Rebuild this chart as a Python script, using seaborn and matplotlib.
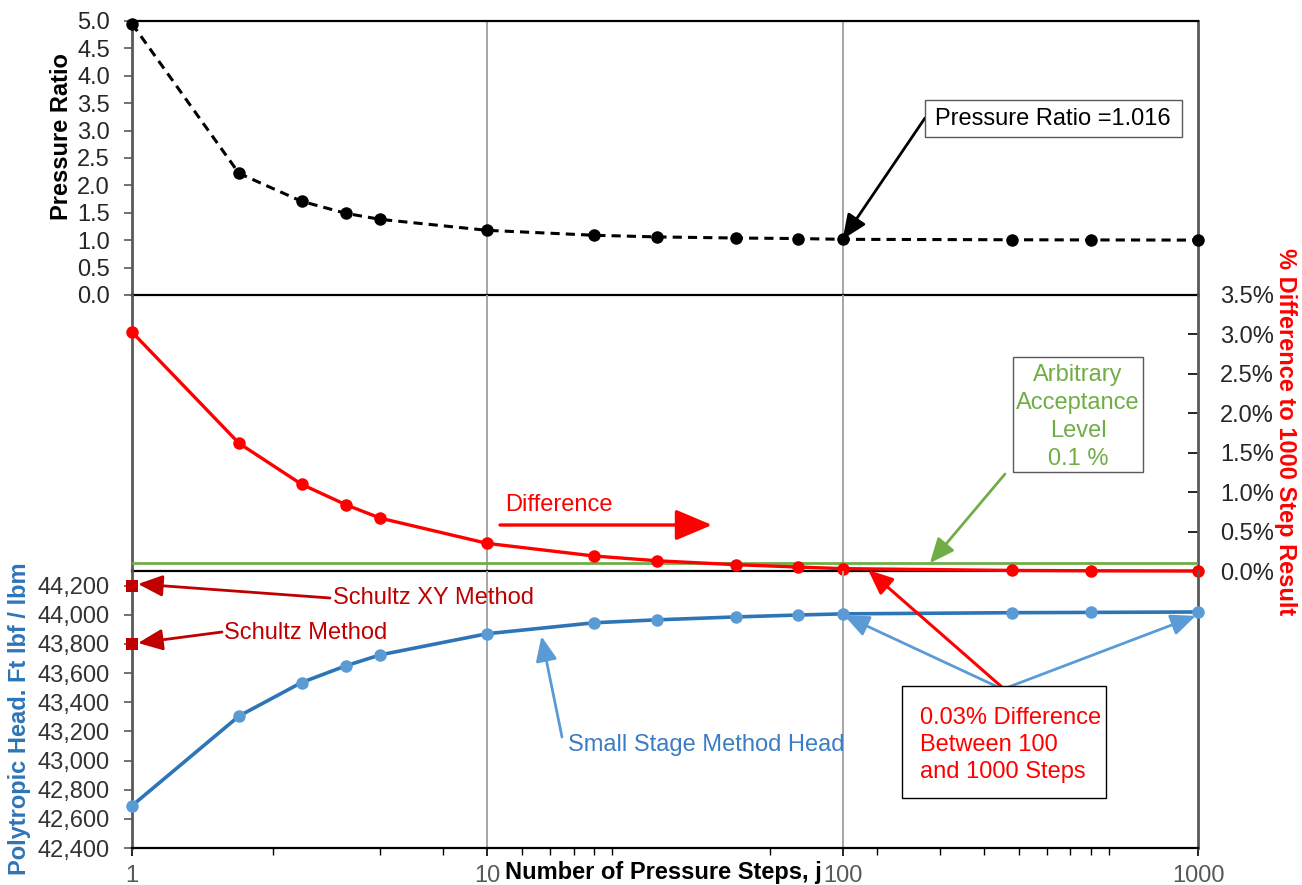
import numpy as np
import pandas as pd
import matplotlib
matplotlib.use('Agg')
import matplotlib.pyplot as plt
import seaborn as sns
from matplotlib.ticker import FixedLocator, FuncFormatter, NullFormatter, NullLocator
from matplotlib.patches import Rectangle

# ---------------- data ----------------
steps = [1, 2, 3, 4, 5, 10, 20, 30, 50, 75, 100, 300, 500, 1000]
pressure_ratio = [4.95, 2.22, 1.71, 1.49, 1.38, 1.18, 1.09, 1.06, 1.04, 1.03, 1.016, 1.008, 1.005, 1.002]
pct_difference = [3.03, 1.62, 1.10, 0.84, 0.67, 0.35, 0.19, 0.13, 0.08, 0.05, 0.03, 0.007, 0.003, 0.0]
head = [42690, 43305, 43535, 43650, 43725, 43870, 43945, 43965, 43985, 43998, 44006, 44014, 44016, 44019]
schultz_steps = [1, 1]
schultz_head = [44200, 43800]
acceptance_level = 0.1
x_ticks = [1, 10, 100, 1000]
x_tick_labels = ['1', '10', '100', '1000']
pr_ticks = [0.0, 0.5, 1.0, 1.5, 2.0, 2.5, 3.0, 3.5, 4.0, 4.5, 5.0]
pct_ticks = [0.0, 0.5, 1.0, 1.5, 2.0, 2.5, 3.0, 3.5]
head_ticks = [42400, 42600, 42800, 43000, 43200, 43400, 43600, 43800, 44000, 44200]
minor_x = [2.5, 5, 7.5, 12.5, 15, 17.5, 20, 22.5, 62.5, 125, 187.5, 250, 312.5,
           375, 437.5, 500, 562.5]

df = pd.DataFrame({'steps': steps, 'pr': pressure_ratio,
                   'diff': pct_difference, 'head': head})
df_s = pd.DataFrame({'steps': schultz_steps, 'head': schultz_head})

# ---------------- style ----------------
sns.set_theme(style='white')
plt.rcParams['font.family'] = ['Liberation Sans', 'DejaVu Sans']
FS = 17
W, H = 1302, 885
fig = plt.figure(figsize=(W / 100, H / 100), dpi=100)
fig.patch.set_facecolor('white')

def fx(x):
    return x / W

def fy(y):
    return 1 - y / H

L, R = 132, 1198
ax_top = fig.add_axes([fx(L), fy(295), fx(R - L), (295 - 21) / H])
ax_mid = fig.add_axes([fx(L), fy(571), fx(R - L), (571 - 295) / H])
ax_bot = fig.add_axes([fx(L), fy(848), fx(R - L), (848 - 571) / H])

SPINE_GRAY = '#595959'
GRID = '#A6A6A6'
RED = '#FF0000'
DRED = '#C00000'
GREEN = '#70AD47'
BLUE_L = '#2E75B6'
BLUE_M = '#5B9BD5'
TXT_BLUE = '#3B7DC4'

for ax in (ax_top, ax_mid, ax_bot):
    ax.set_facecolor('none')
    ax.set_xscale('log')
    ax.set_xlim(1, 1000)
    for v in (10, 100):
        ax.axvline(v, color=GRID, lw=1.4, zorder=0)
    ax.spines['left'].set_color(SPINE_GRAY)
    ax.spines['left'].set_linewidth(2.0)
    ax.spines['right'].set_color(SPINE_GRAY)
    ax.spines['right'].set_linewidth(2.0)
    ax.spines['top'].set_color('black')
    ax.spines['bottom'].set_color('black')
    ax.spines['top'].set_linewidth(1.6)
    ax.spines['bottom'].set_linewidth(1.6)
    ax.grid(False)

# ---------------- top: pressure ratio ----------------
sns.lineplot(data=df, x='steps', y='pr', ax=ax_top, color='black', lw=2.2,
             linestyle='--', marker='o', markersize=9, markeredgewidth=0,
             clip_on=False, zorder=5)
ax_top.lines[-1].set_dashes((3, 2))
ax_top.set_ylim(0, 5.0)
ax_top.yaxis.set_major_locator(FixedLocator(pr_ticks))
ax_top.yaxis.set_major_formatter(FuncFormatter(lambda v, p: f'{v:.1f}'))
ax_top.tick_params(axis='y', which='major', direction='out', length=6, width=1.2,
                   color=SPINE_GRAY, labelsize=FS, labelcolor='#262626', pad=10,
                   left=True)
ax_top.tick_params(axis='x', which='both', bottom=False, labelbottom=False)
ax_top.xaxis.set_minor_locator(NullLocator())
ax_top.set_xlabel('')
ax_top.set_ylabel('')

# ---------------- middle: % difference ----------------
sns.lineplot(data=df, x='steps', y='diff', ax=ax_mid, color=RED, lw=2.4,
             marker='o', markersize=9, markeredgewidth=0, clip_on=False, zorder=5)
ax_mid.axhline(acceptance_level, color=GREEN, lw=2.0, zorder=3)
ax_mid.set_ylim(0, 3.5)
ax_mid.spines['top'].set_visible(False)
ax_mid.yaxis.tick_right()
ax_mid.yaxis.set_major_locator(FixedLocator(pct_ticks))
ax_mid.yaxis.set_major_formatter(FuncFormatter(lambda v, p: f'{v:.1f}%'))
ax_mid.tick_params(axis='y', which='major', direction='in', length=7, width=1.2,
                   color='black', labelsize=FS, labelcolor='#262626', pad=16,
                   right=True, left=False)
ax_mid.tick_params(axis='x', which='both', bottom=False, labelbottom=False)
ax_mid.xaxis.set_minor_locator(NullLocator())
ax_mid.set_xlabel('')
ax_mid.set_ylabel('')

# ---------------- bottom: head ----------------
sns.lineplot(data=df, x='steps', y='head', ax=ax_bot, color=BLUE_L, lw=2.6,
             marker='o', markersize=9, markeredgewidth=0,
             markerfacecolor=BLUE_M, clip_on=False, zorder=5)
sns.scatterplot(data=df_s, x='steps', y='head', ax=ax_bot, marker='s', s=75,
                color=DRED, edgecolor='none', clip_on=False, zorder=6)
ax_bot.set_ylim(42400, 44300)
ax_bot.spines['top'].set_visible(False)
ax_bot.yaxis.set_major_locator(FixedLocator(head_ticks))
ax_bot.yaxis.set_major_formatter(FuncFormatter(lambda v, p: f'{v:,.0f}'))
ax_bot.tick_params(axis='y', which='major', direction='out', length=6, width=1.2,
                   color=SPINE_GRAY, labelsize=FS, labelcolor='#333333', pad=10,
                   left=True)
ax_bot.xaxis.set_major_locator(FixedLocator(x_ticks))
ax_bot.xaxis.set_major_formatter(FuncFormatter(
    lambda v, p: dict(zip(x_ticks, x_tick_labels)).get(int(round(v)), '')))
ax_bot.xaxis.set_minor_locator(FixedLocator(minor_x))
ax_bot.xaxis.set_minor_formatter(NullFormatter())
ax_bot.tick_params(axis='x', which='major', direction='out', length=6, width=1.2,
                   color='black', labelsize=FS, labelcolor=SPINE_GRAY, pad=6,
                   bottom=True)
ax_bot.tick_params(axis='x', which='minor', direction='out', length=5, width=1.0,
                   color='black', bottom=True)
ax_bot.set_xlabel('')
ax_bot.set_ylabel('')

# ---------------- axis titles ----------------
fig.text(fx(62), fy(137), 'Pressure Ratio', rotation=90, ha='center', va='center',
         fontsize=FS, fontweight='bold', color='black')
fig.text(fx(20), fy(719), 'Polytropic Head. Ft lbf / lbm', rotation=90,
         ha='center', va='center', fontsize=FS, fontweight='bold', color=BLUE_L)
fig.text(fx(1286), fy(432), '% Difference to 1000 Step Result', rotation=270,
         ha='center', va='center', fontsize=FS, fontweight='bold', color=RED)
fig.text(fx(663), fy(873), 'Number of Pressure Steps, j', ha='center', va='center',
         fontsize=FS, fontweight='bold', color='black', zorder=10)

# ---------------- annotations ----------------
def arrow(ax, xy, xycoords, start, color, lw=1.8, hl=0.6, hw=0.26, ms=25):
    ax.annotate('', xy=xy, xycoords=xycoords,
                xytext=(start[0], H - start[1]), textcoords='figure pixels',
                arrowprops=dict(arrowstyle=f'-|>,head_length={hl},head_width={hw}',
                                color=color, lw=lw, shrinkA=0, shrinkB=0,
                                mutation_scale=ms),
                annotation_clip=False, zorder=20)

# Pressure ratio box
fig.add_artist(Rectangle((fx(925), fy(137)), fx(1182 - 925), (137 - 100) / H,
                         transform=fig.transFigure, fc='white', ec=SPINE_GRAY,
                         lw=1.0, zorder=8))
fig.text(fx(1053), fy(119), 'Pressure Ratio =1.016', ha='center', va='center',
         fontsize=FS, color='black', zorder=9)
arrow(ax_bot, (100, 1.016), ax_top.transData, (925, 118), 'black', lw=2.0)

# Acceptance box
fig.add_artist(Rectangle((fx(1013), fy(472)), fx(1143 - 1013), (472 - 357) / H,
                         transform=fig.transFigure, fc='white', ec=SPINE_GRAY,
                         lw=1.0, zorder=8))
for txt, yy in zip(['Arbitrary', 'Acceptance', 'Level', '0.1 %'], [375, 403, 431, 459]):
    fig.text(fx(1078), fy(yy), txt, ha='center', va='center', fontsize=FS,
             color=GREEN, zorder=9)
arrow(ax_bot, (176, acceptance_level), ax_mid.transData, (1005, 474), GREEN, lw=2.0)

# Difference label
fig.text(fx(505), fy(505), 'Difference', ha='left', va='center', fontsize=FS,
         color=RED, zorder=9)
ax_bot.annotate('', xy=(712, H - 525), xycoords='figure pixels',
                xytext=(500, H - 525), textcoords='figure pixels',
                arrowprops=dict(arrowstyle='-|>,head_length=0.9,head_width=0.38',
                                color=RED, lw=2.4, shrinkA=0, shrinkB=0,
                                mutation_scale=25),
                annotation_clip=False, zorder=20)

# 0.03 % box
fig.add_artist(Rectangle((fx(902), fy(798)), fx(1106 - 902), (798 - 686) / H,
                         transform=fig.transFigure, fc='white', ec='black',
                         lw=1.0, zorder=8))
for txt, yy in zip(['0.03% Difference', 'Between 100', 'and 1000 Steps'], [718, 745, 772]):
    fig.text(fx(920), fy(yy), txt, ha='left', va='center', fontsize=FS,
             color=RED, zorder=9)
arrow(ax_bot, (118, 0.012), ax_mid.transData, (1003, 688), RED, lw=2.2)
arrow(ax_bot, (101, 43995), ax_bot.transData, (1000, 688), BLUE_M, lw=2.0)
arrow(ax_bot, (985, 43992), ax_bot.transData, (1006, 688), BLUE_M, lw=2.0)

# Small stage method head
fig.text(fx(568), fy(745), 'Small Stage Method Head', ha='left', va='center',
         fontsize=FS, color=TXT_BLUE, zorder=9)
arrow(ax_bot, (14.2, 43852), ax_bot.transData, (562, 737), BLUE_M, lw=2.0)

# Schultz methods
fig.text(fx(333), fy(598), 'Schultz XY Method', ha='left', va='center',
         fontsize=FS, color=DRED, zorder=9)
arrow(ax_bot, (138, H - 584), 'figure pixels', (330, 598), DRED, lw=2.0)
fig.text(fx(224), fy(633), 'Schultz Method', ha='left', va='center',
         fontsize=FS, color=DRED, zorder=9)
arrow(ax_bot, (138, H - 643), 'figure pixels', (222, 632), DRED, lw=2.0)

fig.savefig('out.png', dpi=100, facecolor='white')
